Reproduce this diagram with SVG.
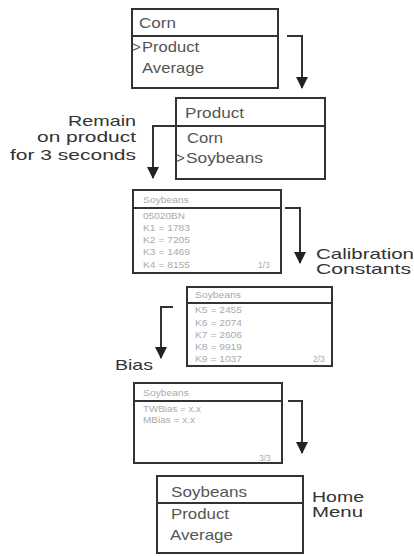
<svg xmlns="http://www.w3.org/2000/svg" width="414" height="556" viewBox="0 0 414 556">
<style>
.box{fill:#fff;stroke:#333;stroke-width:2}
.div{stroke:#333;stroke-width:2}
.bt{font-family:"Liberation Sans",Arial,sans-serif;font-size:15px;fill:#555}
.st{font-family:"Liberation Sans",Arial,sans-serif;font-size:8.5px;fill:#aaa}
.lb{font-family:"Liberation Sans",Arial,sans-serif;font-size:14.5px;fill:#333}
.conn{fill:none;stroke:#333;stroke-width:2}
</style>
<defs>
<marker id="ah" markerUnits="userSpaceOnUse" markerWidth="12" markerHeight="12" viewBox="0 0 12 12" refX="11" refY="6" orient="auto">
<path d="M0,0 L12,6 L0,12 Z" fill="#222"/>
</marker>
</defs>
<rect width="414" height="556" fill="#fff"/>
<g id="connectors">
<path class="conn" d="M287,36 H302 V88" marker-end="url(#ah)"/>
<path class="conn" d="M176,126 H153 V178" marker-end="url(#ah)"/>
<path class="conn" d="M285,208 H300 V263" marker-end="url(#ah)"/>
<path class="conn" d="M173,307 H161 V358" marker-end="url(#ah)"/>
<path class="conn" d="M288,401 H302 V453" marker-end="url(#ah)"/>
</g>
<g id="menu1">
<rect class="box" x="132" y="9" width="146" height="79"/>
<line class="div" x1="132" y1="36" x2="278" y2="36"/>
<text class="bt" x="139" y="28" textLength="37" lengthAdjust="spacingAndGlyphs">Corn</text>
<text class="bt" x="132" y="52">&gt;</text>
<text class="bt" x="142" y="52" textLength="57" lengthAdjust="spacingAndGlyphs">Product</text>
<text class="bt" x="142" y="73" textLength="62" lengthAdjust="spacingAndGlyphs">Average</text>
</g>
<g id="menu2">
<rect class="box" x="176" y="98" width="149" height="81"/>
<line class="div" x1="176" y1="126" x2="325" y2="126"/>
<text class="bt" x="185" y="118" textLength="59" lengthAdjust="spacingAndGlyphs">Product</text>
<text class="bt" x="187" y="143" textLength="36" lengthAdjust="spacingAndGlyphs">Corn</text>
<text class="bt" x="176" y="163">&gt;</text>
<text class="bt" x="186" y="163" textLength="77" lengthAdjust="spacingAndGlyphs">Soybeans</text>
</g>
<g id="label-remain">
<text class="lb" x="136" y="126" text-anchor="end" textLength="68" lengthAdjust="spacingAndGlyphs">Remain</text>
<text class="lb" x="136" y="142" text-anchor="end" textLength="99" lengthAdjust="spacingAndGlyphs">on product</text>
<text class="lb" x="136" y="160" text-anchor="end" textLength="126" lengthAdjust="spacingAndGlyphs">for 3 seconds</text>
</g>
<g id="screen1">
<rect class="box" x="133" y="190" width="148" height="83"/>
<line class="div" x1="133" y1="208" x2="281" y2="208"/>
<text class="st" x="143" y="203" textLength="46" lengthAdjust="spacingAndGlyphs">Soybeans</text>
<text class="st" x="143" y="219" textLength="42" lengthAdjust="spacingAndGlyphs">05020BN</text>
<text class="st" x="143" y="231" textLength="47" lengthAdjust="spacingAndGlyphs">K1 = 1783</text>
<text class="st" x="143" y="243" textLength="47" lengthAdjust="spacingAndGlyphs">K2 = 7205</text>
<text class="st" x="143" y="255" textLength="47" lengthAdjust="spacingAndGlyphs">K3 = 1469</text>
<text class="st" x="143" y="268" textLength="47" lengthAdjust="spacingAndGlyphs">K4 = 8155</text>
<text class="st" x="258" y="268">1/3</text>
</g>
<g id="label-calibration">
<text class="lb" x="316" y="259" textLength="98" lengthAdjust="spacingAndGlyphs">Calibration</text>
<text class="lb" x="316" y="274" textLength="95" lengthAdjust="spacingAndGlyphs">Constants</text>
</g>
<g id="screen2">
<rect class="box" x="187" y="287" width="145" height="79"/>
<line class="div" x1="187" y1="303" x2="332" y2="303"/>
<text class="st" x="195" y="298" textLength="46" lengthAdjust="spacingAndGlyphs">Soybeans</text>
<text class="st" x="195" y="313" textLength="47" lengthAdjust="spacingAndGlyphs">K5 = 2455</text>
<text class="st" x="195" y="326" textLength="47" lengthAdjust="spacingAndGlyphs">K6 = 2074</text>
<text class="st" x="195" y="338" textLength="47" lengthAdjust="spacingAndGlyphs">K7 = 2606</text>
<text class="st" x="195" y="350" textLength="47" lengthAdjust="spacingAndGlyphs">K8 = 9919</text>
<text class="st" x="195" y="362" textLength="47" lengthAdjust="spacingAndGlyphs">K9 = 1037</text>
<text class="st" x="313" y="362">2/3</text>
</g>
<g id="label-bias">
<text class="lb" x="115" y="370" textLength="38" lengthAdjust="spacingAndGlyphs">Bias</text>
</g>
<g id="screen3">
<rect class="box" x="134" y="383" width="148" height="80"/>
<line class="div" x1="134" y1="401" x2="282" y2="401"/>
<text class="st" x="143" y="396" textLength="46" lengthAdjust="spacingAndGlyphs">Soybeans</text>
<text class="st" x="143" y="412" textLength="58" lengthAdjust="spacingAndGlyphs">TWBias = x.x</text>
<text class="st" x="143" y="423" textLength="52" lengthAdjust="spacingAndGlyphs">MBias = x.x</text>
<text class="st" x="259" y="461">3/3</text>
</g>
<g id="home">
<rect class="box" x="157" y="476" width="146" height="77"/>
<line class="div" x1="157" y1="503" x2="303" y2="503"/>
<text class="bt" x="171" y="497" textLength="76" lengthAdjust="spacingAndGlyphs">Soybeans</text>
<text class="bt" x="171" y="519" textLength="58" lengthAdjust="spacingAndGlyphs">Product</text>
<text class="bt" x="170" y="540" textLength="63" lengthAdjust="spacingAndGlyphs">Average</text>
</g>
<g id="label-home">
<text class="lb" x="312" y="502" textLength="52" lengthAdjust="spacingAndGlyphs">Home</text>
<text class="lb" x="312" y="517" textLength="51" lengthAdjust="spacingAndGlyphs">Menu</text>
</g>
</svg>
